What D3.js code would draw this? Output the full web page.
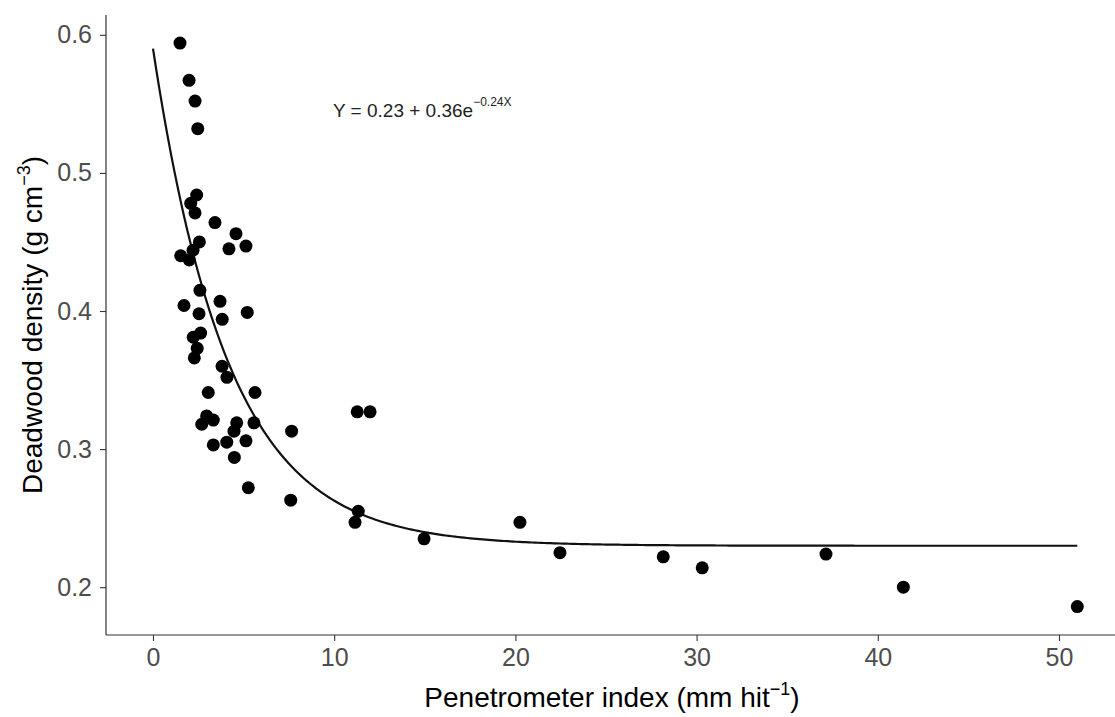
<!DOCTYPE html>
<html>
<head>
<meta charset="utf-8">
<script src="https://cdn.jsdelivr.net/npm/d3@7"></script>
<style>
  html, body { margin: 0; padding: 0; background: #fff; }
  svg { display: block; font-family: "Liberation Sans", Arial, sans-serif; }
</style>
</head>
<body>
<svg id="chart" width="1115" height="717"></svg>
<script>
// Penetrometer index (mm hit^-1)
const penetrometer = [
  1.49, 1.99, 2.32, 2.47, 2.41, 2.08, 2.32, 3.42, 4.58, 4.19,
  5.13, 2.56, 1.53, 2.00, 2.21, 2.59, 1.71, 3.70, 2.54, 3.82,
  5.20, 2.22, 2.63, 2.44, 2.28, 3.81, 4.08, 3.05, 5.63, 2.96,
  2.69, 3.33, 4.62, 4.47, 5.57, 3.33, 4.07, 5.13, 4.49, 5.26,
  7.65, 11.27, 11.98, 7.60, 11.33, 11.15, 14.96, 20.25, 22.46, 28.16,
  30.31, 37.14, 41.41, 51.01
];
// Deadwood density (g cm^-3)
const density = [
  0.594, 0.567, 0.552, 0.532, 0.484, 0.478, 0.471, 0.464, 0.456, 0.445,
  0.447, 0.450, 0.440, 0.437, 0.444, 0.415, 0.404, 0.407, 0.398, 0.394,
  0.399, 0.381, 0.384, 0.373, 0.366, 0.360, 0.352, 0.341, 0.341, 0.324,
  0.318, 0.321, 0.319, 0.313, 0.319, 0.303, 0.305, 0.306, 0.294, 0.272,
  0.313, 0.327, 0.327, 0.263, 0.255, 0.247, 0.235, 0.247, 0.225, 0.222,
  0.214, 0.224, 0.200, 0.186
];
// Fitted model Y = a + b * exp(c * X)
const fitA = 0.23, fitB = 0.36, fitC = -0.24;
const xTicks = [0, 10, 20, 30, 40, 50];
const yTicks = [0.2, 0.3, 0.4, 0.5, 0.6];

const svg = d3.select("#chart");

const x = d3.scaleLinear().domain([0, 50]).range([153, 1059]);
const y = d3.scaleLinear().domain([0.2, 0.6]).range([587.2, 34.8]);

const xMinPx = 106, xMaxPx = 1115, yTopPx = 15, yBotPx = 635;

// curve
const xMax = d3.max(penetrometer);
const curvePts = d3.range(0, 301).map(i => {
  const xv = xMax * i / 300;
  return [xv, fitA + fitB * Math.exp(fitC * xv)];
});
svg.append("path")
  .attr("d", d3.line().x(d => x(d[0])).y(d => y(d[1]))(curvePts))
  .attr("fill", "none")
  .attr("stroke", "#111")
  .attr("stroke-width", 2.2);

// points
svg.append("g").selectAll("circle")
  .data(d3.zip(penetrometer, density))
  .join("circle")
  .attr("cx", d => x(d[0]))
  .attr("cy", d => y(d[1]))
  .attr("r", 6.5)
  .attr("fill", "#000");

// axes
const xAxis = svg.append("g")
  .attr("transform", `translate(0,${yBotPx})`)
  .call(d3.axisBottom(x).tickValues(xTicks).tickFormat(d3.format("d")).tickSize(6).tickPadding(7));
const yAxis = svg.append("g")
  .attr("transform", `translate(${xMinPx},0)`)
  .call(d3.axisLeft(y).tickValues(yTicks).tickFormat(d3.format(".1f")).tickSize(6).tickPadding(8));

[xAxis, yAxis].forEach(g => {
  g.select(".domain").remove();
  g.selectAll(".tick line").attr("stroke", "#333").attr("stroke-width", 1.1);
  g.selectAll(".tick text").attr("fill", "#4d4d4d").attr("font-size", 25)
    .attr("font-family", "Liberation Sans, Arial, sans-serif");
});

// axis lines
svg.append("line").attr("x1", xMinPx).attr("x2", xMinPx).attr("y1", yTopPx).attr("y2", yBotPx)
  .attr("stroke", "#333").attr("stroke-width", 1.2);
svg.append("line").attr("x1", xMinPx).attr("x2", xMaxPx).attr("y1", yBotPx).attr("y2", yBotPx)
  .attr("stroke", "#333").attr("stroke-width", 1.2);

// axis titles
const xt = svg.append("text")
  .attr("x", 612).attr("y", 707)
  .attr("text-anchor", "middle").attr("font-size", 28).attr("fill", "#000");
xt.append("tspan").text("Penetrometer index (mm hit");
xt.append("tspan").text("\u22121").attr("font-size", 18).attr("dy", -12);
xt.append("tspan").text(")").attr("dy", 12);

const yt = svg.append("text")
  .attr("transform", `translate(42,${(yTopPx + yBotPx) / 2}) rotate(-90)`)
  .attr("text-anchor", "middle").attr("font-size", 28).attr("fill", "#000");
yt.append("tspan").text("Deadwood density (g cm");
yt.append("tspan").text("\u22123").attr("font-size", 18).attr("dy", -12);
yt.append("tspan").text(")").attr("dy", 12);

// equation
const eq = svg.append("text")
  .attr("x", 333).attr("y", 117)
  .attr("font-size", 19).attr("fill", "#222");
eq.append("tspan").text("Y = 0.23 + 0.36e");
eq.append("tspan").text("\u22120.24X").attr("font-size", 12).attr("dy", -11);
</script>
</body>
</html>
